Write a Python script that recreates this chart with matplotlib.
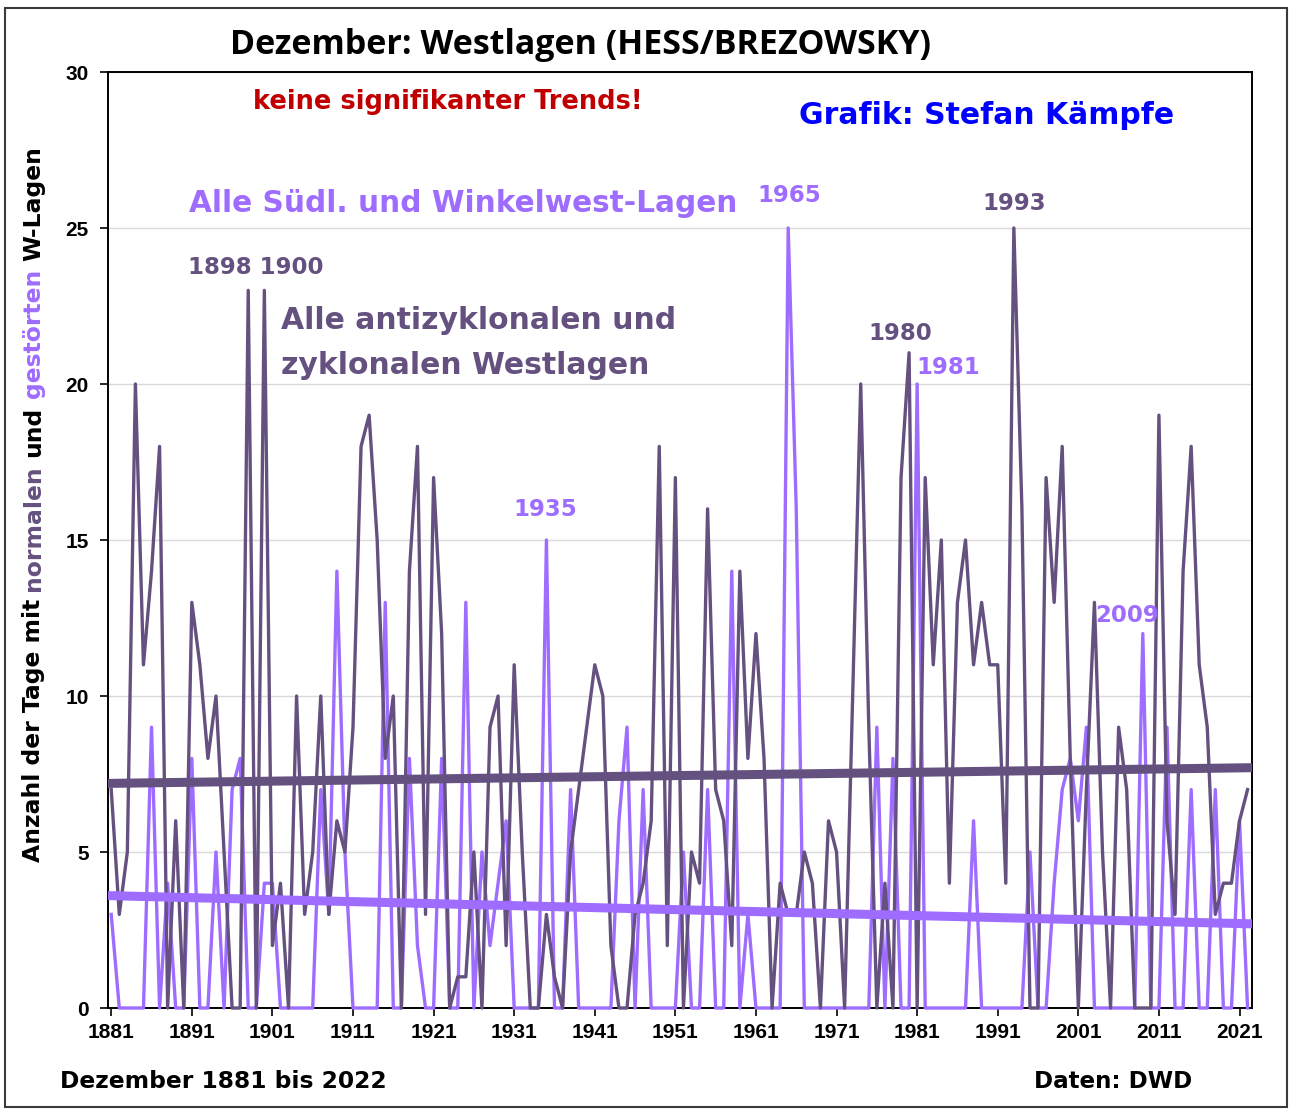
import matplotlib
matplotlib.use('Agg')
import matplotlib.pyplot as plt
import matplotlib.patches as patches

# Dezember-Westlagen nach HESS/BREZOWSKY, Tage je Monat
years = list(range(1881, 2023))

west_normal = [
    7, 3, 5, 20, 11, 14, 18, 0, 6, 0,        # 1881-1890
    13, 11, 8, 10, 5, 0, 0, 23, 0, 23,       # 1891-1900
    2, 4, 0, 10, 3, 5, 10, 3, 6, 5,          # 1901-1910
    9, 18, 19, 15, 8, 10, 0, 14, 18, 3,      # 1911-1920
    17, 12, 0, 1, 1, 5, 0, 9, 10, 2,         # 1921-1930
    11, 5, 0, 0, 3, 1, 0, 5, 7, 9,           # 1931-1940
    11, 10, 2, 0, 0, 3, 4, 6, 18, 2,         # 1941-1950
    17, 0, 5, 4, 16, 7, 6, 2, 14, 8,         # 1951-1960
    12, 8, 0, 4, 3, 3, 5, 4, 0, 6,           # 1961-1970
    5, 0, 10, 20, 9, 0, 4, 0, 17, 21,        # 1971-1980
    0, 17, 11, 15, 4, 13, 15, 11, 13, 11,    # 1981-1990
    11, 4, 25, 16, 0, 0, 17, 13, 18, 8,      # 1991-2000
    0, 7, 13, 5, 0, 9, 7, 0, 0, 0,           # 2001-2010
    19, 6, 3, 14, 18, 11, 9, 3, 4, 4,        # 2011-2020
    6, 7,                                    # 2021-2022
]

west_sued = [
    3, 0, 0, 0, 0, 9, 0, 4, 0, 0,            # 1881-1890
    8, 0, 0, 5, 0, 7, 8, 0, 0, 4,            # 1891-1900
    4, 0, 0, 0, 0, 0, 7, 3, 14, 5,           # 1901-1910
    0, 0, 0, 0, 13, 0, 0, 8, 2, 0,           # 1911-1920
    0, 8, 0, 0, 13, 0, 5, 2, 4, 6,           # 1921-1930
    0, 0, 0, 0, 15, 0, 0, 7, 0, 0,           # 1931-1940
    0, 0, 0, 6, 9, 0, 7, 0, 0, 0,            # 1941-1950
    0, 5, 0, 0, 7, 0, 0, 14, 0, 3,           # 1951-1960
    0, 0, 0, 0, 25, 16, 0, 0, 0, 0,          # 1961-1970
    0, 0, 0, 0, 0, 9, 0, 8, 0, 0,            # 1971-1980
    20, 0, 0, 0, 0, 0, 0, 6, 0, 0,           # 1981-1990
    0, 0, 0, 0, 5, 0, 0, 4, 7, 8,            # 1991-2000
    6, 9, 0, 0, 0, 0, 0, 0, 12, 0,           # 2001-2010
    0, 9, 0, 0, 7, 0, 0, 7, 0, 0,            # 2011-2020
    6, 0,                                    # 2021-2022
]

# lineare Trends (Anfang 1881, Ende 2022)
trend_normal = [7.2, 7.7]
trend_sued = [3.6, 2.7]

xtick_years = list(range(1881, 2022, 10))
ytick_vals = [0, 5, 10, 15, 20, 25, 30]

DARK = '#65517F'
LIGHT = '#9E6CFF'

W, H = 1290, 1110


def px(x, y):
    # pixel position (from top-left) -> figure fraction
    return x / W, 1 - y / H


fig = plt.figure(figsize=(W / 100, H / 100), dpi=100)
fig.patch.set_facecolor('white')
ax = fig.add_axes([108 / W, 102 / H, (1252 - 108) / W, (1008 - 72) / H])

ax.plot(years, west_sued, color=LIGHT, lw=2.4, zorder=3, clip_on=False)
ax.plot(years, west_normal, color=DARK, lw=2.4, zorder=4, clip_on=False)
ax.plot([years[0], years[-1]], trend_sued, color=LIGHT, lw=6.5, zorder=5,
        solid_capstyle='projecting')
ax.plot([years[0], years[-1]], trend_normal, color=DARK, lw=6.5, zorder=6,
        solid_capstyle='projecting')

ax.set_xlim(1880.6, 2022.55)
ax.set_ylim(0, 30)
ax.set_xticks(xtick_years)
ax.set_yticks(ytick_vals)
ax.yaxis.grid(True, color='#D9D9D9', lw=1)
ax.set_axisbelow(True)
for s in ax.spines.values():
    s.set_color('black')
    s.set_linewidth(1.4)
ax.tick_params(axis='both', direction='out', length=6, width=1.2, colors='black')
for lab in ax.get_xticklabels() + ax.get_yticklabels():
    lab.set_fontfamily('Liberation Sans')
    lab.set_fontweight('bold')
    lab.set_fontsize(15)
ax.tick_params(axis='x', pad=5)
ax.tick_params(axis='y', pad=8)

# Texte
bold = dict(fontweight='bold', family='DejaVu Sans')
fig.text(*px(581, 45), 'Dezember: Westlagen (HESS/BREZOWSKY)', ha='center', va='center',
         fontsize=24.5, fontweight='bold', family='Open Sans', color='black')
fig.text(*px(448, 102), 'keine signifikanter Trends!', ha='center', va='center',
         fontsize=18.5, color='#C00000', **bold)
fig.text(*px(987, 116), 'Grafik: Stefan Kämpfe', ha='center', va='center',
         fontsize=21.5, color='#0000FF', **bold)
fig.text(*px(463, 204), 'Alle Südl. und Winkelwest-Lagen', ha='center', va='center',
         fontsize=21.3, color=LIGHT, **bold)
fig.text(*px(281, 321), 'Alle antizyklonalen und', ha='left', va='center',
         fontsize=21.5, color=DARK, **bold)
fig.text(*px(281, 365), 'zyklonalen Westlagen', ha='left', va='center',
         fontsize=21.5, color=DARK, **bold)
num_kw = dict(ha='center', va='center', fontsize=16.5, **bold)
fig.text(*px(789, 195), '1965', color=LIGHT, **num_kw)
fig.text(*px(1014, 204), '1993', color=DARK, **num_kw)
fig.text(*px(256, 268), '1898 1900', color=DARK, **num_kw)
fig.text(*px(900, 333), '1980', color=DARK, **num_kw)
fig.text(*px(948, 367), '1981', color=LIGHT, **num_kw)
fig.text(*px(545, 510), '1935', color=LIGHT, **num_kw)
fig.text(*px(1127, 616), '2009', color=LIGHT, **num_kw)
fig.text(*px(60, 1081), 'Dezember 1881 bis 2022', ha='left', va='center',
         fontsize=16.8, color='black', **bold)
fig.text(*px(1192, 1081), 'Daten: DWD', ha='right', va='center',
         fontsize=16.6, color='black', **bold)

# mehrfarbige y-Beschriftung, Wort fuer Wort von unten nach oben
ylabel_parts = [('Anzahl der Tage mit', 'black'), ('normalen', DARK), ('und', 'black'),
                ('gestörten', LIGHT), ('W-Lagen', 'black')]
renderer = fig.canvas.get_renderer()
lab_kw = dict(fontsize=16.9, **bold)


def text_w(s):
    t = fig.text(0, 0, s + '|', **lab_kw)
    w = t.get_window_extent(renderer).width
    t.remove()
    t = fig.text(0, 0, '|', **lab_kw)
    w -= t.get_window_extent(renderer).width
    t.remove()
    return w


prefix = ''
x0, y0 = 34, 862
for word, col in ylabel_parts:
    off = text_w(prefix) if prefix else 0
    fig.text(*px(x0, y0 - off), word, rotation=90, ha='center', va='bottom', color=col, **lab_kw)
    prefix += word + ' '

fig.add_artist(patches.Rectangle(px(5, 1107), (1287 - 5) / W, (1107 - 8) / H,
                                 transform=fig.transFigure, fill=False,
                                 edgecolor='#3A3A3A', lw=1.5))

fig.savefig('out.png', dpi=100)
plt.close(fig)
